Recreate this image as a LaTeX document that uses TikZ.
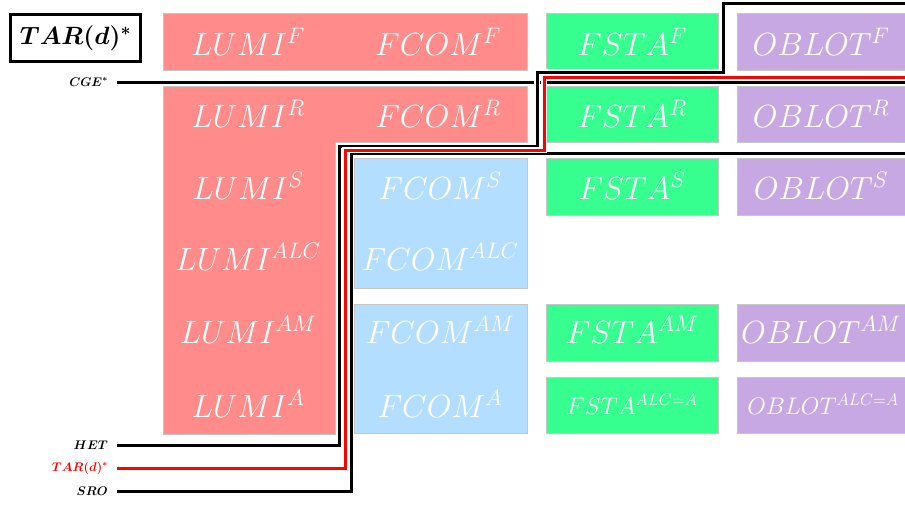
\RequirePackage{fix-cm}
\documentclass[tikz,border=0pt]{standalone}
\usepackage{amsmath}
\usetikzlibrary{positioning}
\definecolor{lumired}{RGB}{255,139,139}
\definecolor{fcomblue}{RGB}{180,222,255}
\definecolor{fstagreen}{RGB}{54,255,144}
\definecolor{oblotpurple}{RGB}{200,168,226}
\begin{document}
\begin{tikzpicture}[
		x=1pt,y=-1pt,
		model/.style={text=white,font=\fontsize{32}{38}\selectfont},
		smallmodel/.style={text=white,font=\fontsize{24}{29}\selectfont},
		area/.style={draw=gray!45,line width=0.6pt},
		sep/.style={line width=3pt,preaction={draw=white,line width=5.5pt}},
		tag/.style={anchor=east,inner sep=0pt,font=\fontsize{12.5}{15}\selectfont\boldmath}
		]
		\useasboundingbox (0,0) rectangle (905,504);
		% coloured areas
		\path[area,fill=lumired] (163,13) rectangle (527,70);
		\path[area,fill=lumired] (163,86) -- (527,86) -- (527,142) -- (335,142) -- (335,434) -- (163,434) -- cycle;
		\path[area,fill=fcomblue] (354,158) rectangle (527,288);
		\path[area,fill=fcomblue] (354,304) rectangle (527,433);
		\foreach \top/\bot in {13/70,86/142,158/215,304/361,377/433}
		{
			\path[area,fill=fstagreen] (546,\top) rectangle (718,\bot);
			\path[area,fill=oblotpurple] (737,\top) rectangle (912,\bot);
		}
		% model names
		\node[model] (lumiF) at (248,42) {$LUMI^F$};
		\node[model] (fcomF) at (438,42) {$FCOM^F$};
		\node[model] (fstaF) at (632,42) {$FSTA^F$};
		\node[model] (oblotF) at (821,42) {$OBLOT^F$};
		\node[model] (lumiR) at (248,114) {$LUMI^R$};
		\node[model] (fcomR) at (438,114) {$FCOM^R$};
		\node[model] (fstaR) at (632,114) {$FSTA^R$};
		\node[model] (oblotR) at (821,114) {$OBLOT^R$};
		\node[model] (lumiS) at (248,186) {$LUMI^S$};
		\node[model] (fcomS) at (440,186) {$FCOM^S$};
		\node[model] (fstaS) at (632,186) {$FSTA^S$};
		\node[model] (oblotS) at (821,186) {$OBLOT^S$};
		\node[model] (lumiALC) at (248,257) {$LUMI^{ALC}$};
		\node[model] (fcomALC) at (440,257) {$FCOM^{ALC}$};
		\node[model] (lumiAM) at (248,330) {$LUMI^{AM}$};
		\node[model] (fcomAM) at (440,330) {$FCOM^{AM}$};
		\node[model] (fstaAM) at (632,330) {$FSTA^{AM}$};
		\node[model] (oblotAM) at (821,330) {$OBLOT^{AM}$};
		\node[model] (lumiA) at (248,404) {$LUMI^A$};
		\node[model] (fcomA) at (440,404) {$FCOM^A$};
		\node[smallmodel] (fstaALCA) at (632,404) {$FSTA^{ALC=A}$};
		\node[smallmodel] (oblotALCA) at (823,404) {$OBLOT^{ALC=A}$};
		% title
		\node[draw,line width=3pt,minimum width=130,minimum height=47,inner sep=0pt,
			font=\fontsize{25}{30}\selectfont\boldmath] (title) at (75.5,38) {$TAR(d)^*$};
		% assumption tags
		\node[tag] (cge) at (108,82) {$CGE^*$};
		\node[tag] (het) at (108,445) {$HET$};
		\node[tag,text=red] (tar) at (108,468) {$TAR(d)^*$};
		\node[tag] (sro) at (108,491) {$SRO$};
		\coordinate (cgeEnd) at (906,82);
		\coordinate (hetEnd) at (906,3);
		\coordinate (tarEnd) at (906,77);
		\coordinate (sroEnd) at (906,153);
		% separating lines
		\draw[sep] ([xshift=9pt]cge.east) -- (cgeEnd);
		\draw[sep] ([xshift=9pt]sro.east) -| (351,153) -- (sroEnd);
		\draw[sep] ([xshift=9pt]het.east) -| (339,146) -| (537,72) -| (723,3) -- (hetEnd);
		\draw[sep,red] ([xshift=9pt]tar.east) -| (345,150) -| (544,77) -- (tarEnd);
	\end{tikzpicture}
\end{document}
